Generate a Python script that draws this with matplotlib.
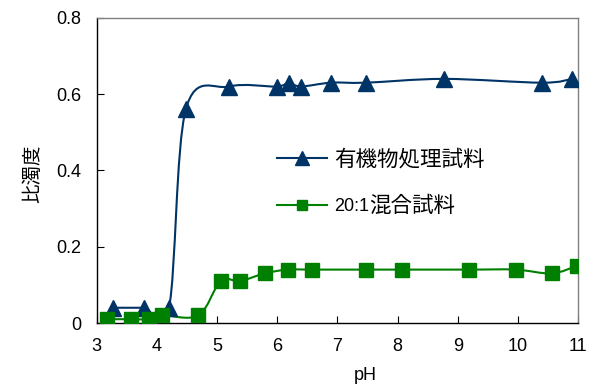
import matplotlib
matplotlib.use('Agg')
import matplotlib.pyplot as plt
from matplotlib.path import Path
from matplotlib.patches import PathPatch
from matplotlib.lines import Line2D

plt.rcParams['font.family'] = ['Liberation Sans', 'Noto Sans CJK JP', 'DejaVu Sans']

ph_org = [3.27, 3.78, 4.20, 4.48, 5.20, 5.99, 6.19, 6.39, 6.89, 7.47, 8.77, 10.40, 10.90]
tur_org = [0.04, 0.04, 0.04, 0.56, 0.62, 0.62, 0.63, 0.62, 0.63, 0.63, 0.64, 0.63, 0.64]

ph_mix = [3.17, 3.57, 3.87, 4.09, 4.69, 5.06, 5.38, 5.79, 6.17, 6.58, 7.47, 8.07,
          9.18, 9.96, 10.56, 10.98]
tur_mix = [0.01, 0.01, 0.01, 0.02, 0.02, 0.11, 0.11, 0.13, 0.14, 0.14, 0.14, 0.14,
           0.14, 0.14, 0.13, 0.15]

label_org = '有機物処理試料'
label_mix_num = '20:1'
label_mix_txt = '混合試料'
xticks = list(range(3, 12))
yticks = [0, 0.2, 0.4, 0.6, 0.8]
ytick_labels = ['0', '0.2', '0.4', '0.6', '0.8']


def smooth_path(xs, ys):
    # excel-style smoothed line as cubic bezier segments
    pts = list(zip(xs, ys))
    verts = [pts[0]]
    codes = [Path.MOVETO]
    n = len(pts)
    for i in range(n - 1):
        p0 = pts[i - 1] if i > 0 else pts[i]
        p1 = pts[i]
        p2 = pts[i + 1]
        p3 = pts[i + 2] if i + 2 < n else pts[i + 1]
        c1 = (p1[0] + (p2[0] - p0[0]) / 6, p1[1] + (p2[1] - p0[1]) / 6)
        c2 = (p2[0] - (p3[0] - p1[0]) / 6, p2[1] - (p3[1] - p1[1]) / 6)
        verts += [c1, c2, p2]
        codes += [Path.CURVE4] * 3
    return Path(verts, codes)


fig = plt.figure(figsize=(6.01, 3.88), dpi=100)
ax = fig.add_axes([0.161, 0.1675, 0.801, 0.7865])

c_org = '#003366'
c_mix = '#008000'

ax.add_patch(PathPatch(smooth_path(ph_org, tur_org), facecolor='none',
                       edgecolor=c_org, lw=1.5, zorder=2))
ax.add_patch(PathPatch(smooth_path(ph_mix, tur_mix), facecolor='none',
                       edgecolor=c_mix, lw=1.5, zorder=2))
ax.plot(ph_org, tur_org, '^', color=c_org, ms=11.5, ls='none', zorder=3)
ax.plot(ph_mix, tur_mix, 's', color=c_mix, ms=10.5, ls='none', zorder=3)

ax.set_xlim(3, 11)
ax.set_ylim(0, 0.8)
ax.set_xticks(xticks)
ax.set_yticks(yticks)
ax.set_yticklabels(ytick_labels)
ax.tick_params(direction='in', length=5, labelsize=13, color='black')
ax.tick_params(axis='x', pad=11)
ax.tick_params(axis='y', pad=11)
ax.spines['top'].set_color('#808080')
ax.spines['right'].set_color('#808080')
for s in ax.spines.values():
    s.set_linewidth(1.0)

ax.set_xlabel('pH', fontsize=13)
ax.xaxis.set_label_coords(0.557, -0.145)
ax.set_ylabel('比濁度', fontsize=14)
ax.yaxis.set_label_coords(-0.114, 0.49)

handles = [
    Line2D([], [], color=c_org, lw=1.5, marker='^', ms=9.5),
    Line2D([], [], color=c_mix, lw=1.5, marker='s', ms=7.5),
]
leg = ax.legend(handles, [label_org, label_mix_num + label_mix_txt], loc='upper left',
                bbox_to_anchor=(0.374, 0.567), frameon=False, fontsize=15.5,
                handlelength=2.35, handletextpad=0.32, labelspacing=1.17,
                borderpad=0, borderaxespad=0)

# second label: numbers smaller than the kanji
fig.canvas.draw()
t2 = leg.get_texts()[1]
bb = t2.get_window_extent()
t2.set_alpha(0)
t_num = ax.annotate(label_mix_num, xy=(bb.x0, (bb.y0 + bb.y1) / 2),
                    xycoords='figure pixels', va='center', ha='left', fontsize=13)
ax.annotate(label_mix_txt, xy=(1, 0.5), xycoords=t_num, va='center', ha='left',
            fontsize=15.5)

fig.savefig('out.png', dpi=100)
